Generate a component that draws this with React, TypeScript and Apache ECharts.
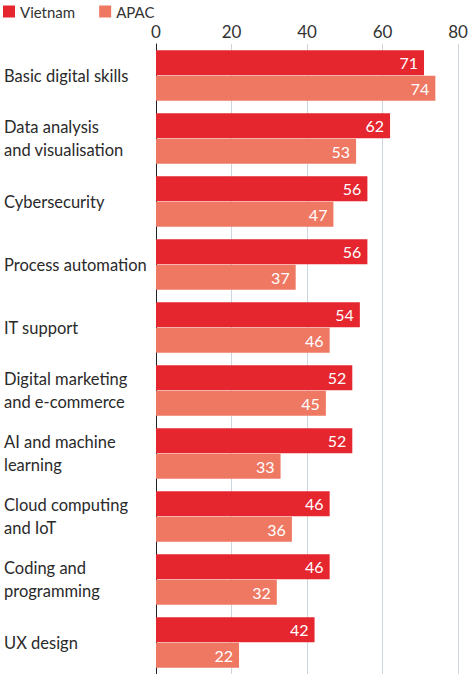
import React, { useEffect, useRef } from "react";
import * as echarts from "echarts";

const categories = [
  "Basic digital skills",
  "Data analysis\nand visualisation",
  "Cybersecurity",
  "Process automation",
  "IT support",
  "Digital marketing\nand e-commerce",
  "AI and machine\nlearning",
  "Cloud computing\nand IoT",
  "Coding and\nprogramming",
  "UX design",
];
const vietnam = [71, 62, 56, 56, 54, 52, 52, 46, 46, 42];
const apac = [74, 53, 47, 37, 46, 45, 33, 36, 32, 22];
const xTicks = { min: 0, max: 80, interval: 20 };

const FONT = "Lato";

export default function App() {
  const ref = useRef<HTMLDivElement>(null);
  useEffect(() => {
    if (!ref.current) return;
    const chart = echarts.init(ref.current, null, { renderer: "svg" });
    const labelStyle = {
      show: true,
      position: "insideRight",
      distance: 6,
      color: "#ffffff",
      fontSize: 16,
      fontFamily: FONT,
    };
    chart.setOption({
      animation: false,
      backgroundColor: "#ffffff",
      textStyle: { fontFamily: FONT },
      legend: {
        left: 3,
        top: 4,
        padding: 0,
        icon: "rect",
        itemWidth: 12,
        itemHeight: 12,
        itemGap: 24,
        textStyle: { fontSize: 15, color: "#333333", fontFamily: FONT },
        data: ["Vietnam", "APAC"],
      },
      grid: { left: 156, top: 44, width: 302, height: 632 },
      xAxis: {
        type: "value",
        position: "top",
        min: xTicks.min,
        max: xTicks.max,
        interval: xTicks.interval,
        axisLine: { show: false },
        axisTick: { show: false },
        axisLabel: { fontSize: 17, color: "#333333", margin: 4, fontFamily: FONT },
        splitLine: { show: true, lineStyle: { color: "#cdd6de", width: 1 } },
      },
      yAxis: {
        type: "category",
        inverse: true,
        data: categories,
        axisLine: { show: true, lineStyle: { color: "#222222", width: 1 } },
        axisTick: { show: false },
        axisLabel: {
          align: "left",
          margin: 152,
          fontSize: 16.5,
          lineHeight: 23,
          color: "#2a2a2a",
          fontFamily: FONT,
        },
      },
      series: [
        {
          name: "Vietnam",
          type: "bar",
          data: vietnam,
          barWidth: 25,
          barGap: "2%",
          itemStyle: { color: "#e5262f" },
          label: labelStyle,
        },
        {
          name: "APAC",
          type: "bar",
          data: apac,
          barWidth: 25,
          itemStyle: { color: "#ef7863" },
          label: labelStyle,
        },
      ],
    });
    return () => chart.dispose();
  }, []);
  return (
    <div
      ref={ref}
      style={{ position: "fixed", left: 0, top: 0, width: 474, height: 674 }}
    />
  );
}
